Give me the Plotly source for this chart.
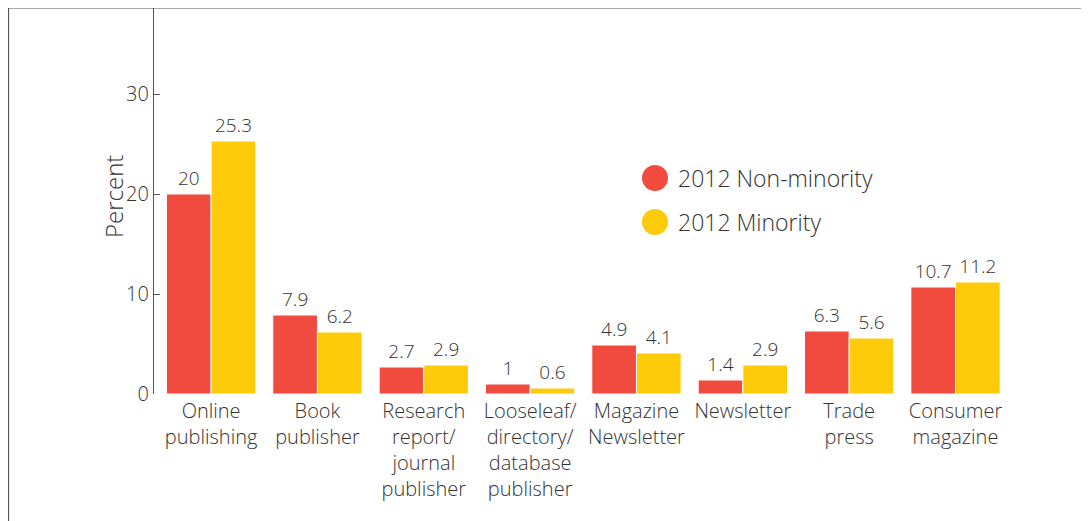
import plotly.graph_objects as go

categories = ["Online<br>publishing", "Book<br>publisher", "Research<br>report/<br>journal<br>publisher",
              "Looseleaf/<br>directory/<br>database<br>publisher", "Magazine<br>Newsletter", "Newsletter",
              "Trade<br>press", "Consumer<br>magazine"]
non_minority = [20, 7.9, 2.7, 1, 4.9, 1.4, 6.3, 10.7]
minority = [25.3, 6.2, 2.9, 0.6, 4.1, 2.9, 5.6, 11.2]
series_names = ["2012 Non-minority", "2012 Minority"]
colors = ["#F04B3E", "#FDCB0A"]
y_ticks = [0, 10, 20, 30]

# page body has an 8px margin; the figure's origin sits at screen (8, 8)
OFF = 8
W, H = 1089 - OFF, 521 - OFF
ML, MT = 154 - OFF, 0
PW = 860
PH = 394 - OFF - MT
MR = W - ML - PW
MB = H - MT - PH
TEXT = "#333333"
FONT = "Open Sans"
WT = 300

def px(x):
    return (x - OFF - ML) / PW

def py(y):
    return (MT + PH - (y - OFF)) / PH

fig = go.Figure()
for name, vals, c in zip(series_names, [non_minority, minority], colors):
    fig.add_trace(go.Bar(
        x=list(range(len(categories))), y=vals, name=name,
        marker=dict(color=c, line=dict(color="white", width=1)),
        text=[f"{v:g}" for v in vals], textposition="outside",
        textfont=dict(size=19, color=TEXT, family=FONT, weight=WT),
        cliponaxis=False, showlegend=False,
    ))

shapes = [
    dict(type="line", xref="paper", yref="paper", x0=px(8), x1=px(1089), y0=py(8), y1=py(8),
         line=dict(color="#555555", width=1.2)),
    dict(type="line", xref="paper", yref="paper", x0=px(8.5), x1=px(8.5), y0=py(8), y1=py(521),
         line=dict(color="#555555", width=1.2)),
]
annotations = [
    dict(text="Percent", xref="paper", yref="paper", x=px(113), y=py(197), textangle=-90,
         showarrow=False, font=dict(size=24, color=TEXT, family=FONT, weight=WT),
         xanchor="center", yanchor="middle"),
]
for i, (name, c) in enumerate(zip(series_names, colors)):
    cy = 178 + 44 * i
    shapes.append(dict(type="circle", xref="paper", yref="paper",
                       x0=px(642), x1=px(668), y0=py(cy - 13), y1=py(cy + 13),
                       fillcolor=c, line=dict(width=0)))
    annotations.append(dict(text=name, xref="paper", yref="paper", x=px(676), y=py(cy),
                            xanchor="left", yanchor="middle", showarrow=False,
                            font=dict(size=23, color=TEXT, family=FONT, weight=WT)))

fig.update_layout(
    width=W, height=H, margin=dict(l=ML, r=MR, t=MT, b=MB, pad=0),
    paper_bgcolor="white", plot_bgcolor="white",
    barmode="group", bargap=0.16, bargroupgap=0.0,
    font=dict(family=FONT, color=TEXT),
    shapes=shapes, annotations=annotations,
    xaxis=dict(range=[-0.537, 7.55], tickmode="array", tickvals=list(range(len(categories))),
               ticktext=categories, showgrid=False, zeroline=False, showline=False, ticks="",
               ticklabelstandoff=3,
               tickfont=dict(size=20, color=TEXT, family=FONT, weight=WT), tickangle=0),
    yaxis=dict(range=[0, 38.6], tickvals=y_ticks, showgrid=False, zeroline=False,
               showline=True, linecolor="#555555", linewidth=1.2, ticks="inside", ticklen=6,
               tickcolor="#555555", tickfont=dict(size=20, color=TEXT, family=FONT, weight=WT)),
)

fig.write_html("out.html")
